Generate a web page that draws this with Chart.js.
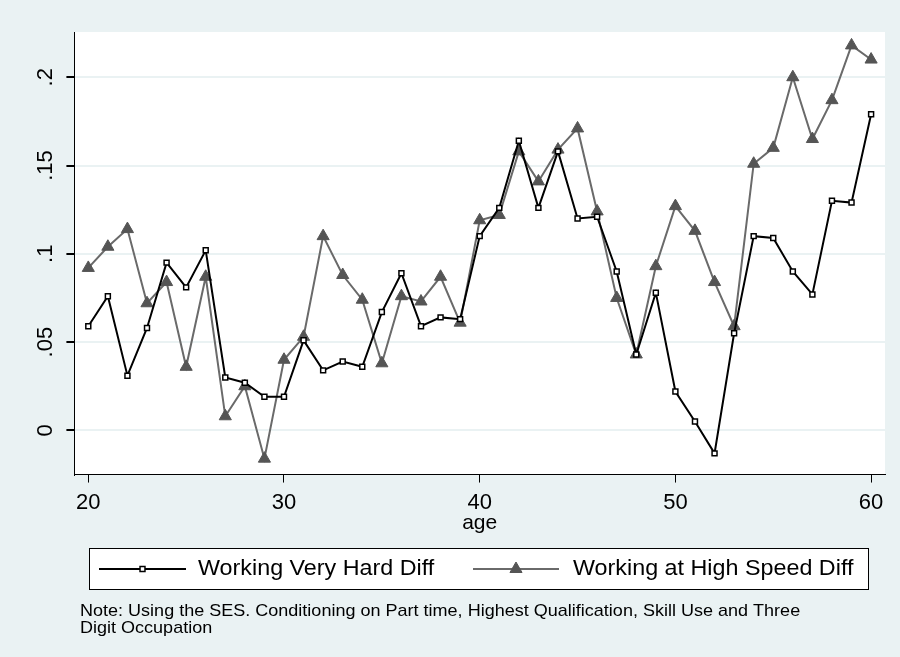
<!DOCTYPE html>
<html>
<head>
<meta charset="utf-8">
<script src="https://cdn.jsdelivr.net/npm/chart.js@4.4.1/dist/chart.umd.min.js"></script>
<style>
  html, body { margin: 0; padding: 0; background: #eaf2f3; }
  canvas { display: block; }
</style>
</head>
<body>
<canvas id="chart" width="900" height="657"></canvas>
<script>
// ages on the x axis
const ages = [20, 21, 22, 23, 24, 25, 26, 27, 28, 29, 30, 31, 32, 33, 34, 35, 36, 37, 38, 39, 40,
              41, 42, 43, 44, 45, 46, 47, 48, 49, 50, 51, 52, 53, 54, 55, 56, 57, 58, 59, 60];

// Working Very Hard Diff
const veryHard = [0.059, 0.076, 0.031, 0.058, 0.095, 0.081, 0.102, 0.030, 0.027, 0.019, 0.019,
                  0.051, 0.034, 0.039, 0.036, 0.067, 0.089, 0.059, 0.064, 0.063, 0.110,
                  0.126, 0.164, 0.126, 0.158, 0.120, 0.121, 0.090, 0.043, 0.078, 0.022,
                  0.005, -0.013, 0.055, 0.110, 0.109, 0.090, 0.077, 0.130, 0.129, 0.179];

// Working at High Speed Diff
const highSpeed = [0.092, 0.104, 0.114, 0.072, 0.084, 0.036, 0.087, 0.008, 0.025, -0.016, 0.040,
                   0.053, 0.110, 0.088, 0.074, 0.038, 0.076, 0.073, 0.087, 0.061, 0.119,
                   0.122, 0.158, 0.141, 0.159, 0.171, 0.124, 0.075, 0.043, 0.093, 0.127,
                   0.113, 0.084, 0.059, 0.151, 0.160, 0.200, 0.165, 0.187, 0.218, 0.210];

const xTicks = [20, 30, 40, 50, 60];
const yTicks = [0, 0.05, 0.1, 0.15, 0.2];
const yTickLabels = ['0', '.05', '.1', '.15', '.2'];

const noteLines = [
    'Note: Using the SES. Conditioning on Part time, Highest Qualification, Skill Use and Three',
    'Digit Occupation'
];

const FONT = '"Liberation Sans", Arial, sans-serif';
const BG = '#eaf2f3';

function toPoints(values) {
    return ages.map((a, i) => ({ x: a, y: values[i] }));
}

// text a bit wider than the font, like the original export
function wideText(ctx, text, x, y, sx) {
    ctx.save();
    ctx.translate(x, y);
    ctx.scale(sx, 1);
    ctx.fillText(text, 0, 0);
    ctx.restore();
}

// background + white plot region
const backgroundPlugin = {
    id: 'stataBackground',
    beforeDraw(chart) {
        const { ctx, chartArea } = chart;
        ctx.save();
        ctx.fillStyle = BG;
        ctx.fillRect(0, 0, chart.width, chart.height);
        ctx.fillStyle = '#ffffff';
        ctx.fillRect(chartArea.left, chartArea.top, chartArea.right - chartArea.left, chartArea.bottom - chartArea.top);
        ctx.restore();
    }
};

// boxed legend and note under the axis
const legendNotePlugin = {
    id: 'legendNote',
    afterDraw(chart) {
        const ctx = chart.ctx;
        const ds = chart.data.datasets;
        ctx.save();

        // box
        ctx.fillStyle = '#ffffff';
        ctx.fillRect(89, 548, 779, 41);
        ctx.strokeStyle = '#000000';
        ctx.lineWidth = 1;
        ctx.strokeRect(89.5, 548.5, 779, 41);

        const items = [
            { x0: 99, x1: 186, tx: 198 },
            { x0: 473, x1: 559, tx: 573 }
        ];
        const cy = 569;
        items.forEach((it, i) => {
            const d = ds[i];
            ctx.strokeStyle = d.borderColor;
            ctx.lineWidth = d.borderWidth;
            ctx.beginPath();
            ctx.moveTo(it.x0, cy);
            ctx.lineTo(it.x1, cy);
            ctx.stroke();
            ctx.fillStyle = d.pointBackgroundColor;
            ctx.strokeStyle = d.pointBorderColor;
            ctx.lineWidth = d.pointBorderWidth;
            Chart.helpers.drawPoint(ctx, {
                pointStyle: d.pointStyle,
                radius: d.pointRadius,
                rotation: 0,
                borderWidth: d.pointBorderWidth
            }, (it.x0 + it.x1) / 2, cy);
            ctx.fillStyle = '#000000';
            ctx.font = '22px ' + FONT;
            ctx.textBaseline = 'middle';
            ctx.textAlign = 'left';
            wideText(ctx, d.label, it.tx, cy, 1.06);
        });

        // note
        ctx.fillStyle = '#000000';
        ctx.font = '17px ' + FONT;
        ctx.textBaseline = 'middle';
        noteLines.forEach((line, i) => {
            wideText(ctx, line, 80, 611 + i * 17, 1.06);
        });
        ctx.restore();
    }
};

new Chart(document.getElementById('chart'), {
    type: 'line',
    data: {
        datasets: [
            {
                label: 'Working Very Hard Diff',
                data: toPoints(veryHard),
                borderColor: '#000000',
                borderWidth: 2,
                pointStyle: 'rect',
                pointRadius: 3.5,
                pointBackgroundColor: '#ffffff',
                pointBorderColor: '#000000',
                pointBorderWidth: 1.5,
                tension: 0
            },
            {
                label: 'Working at High Speed Diff',
                data: toPoints(highSpeed),
                borderColor: '#6a6a6a',
                borderWidth: 2,
                pointStyle: 'triangle',
                pointRadius: 7,
                pointBackgroundColor: '#555555',
                pointBorderColor: '#555555',
                pointBorderWidth: 1,
                tension: 0
            }
        ]
    },
    options: {
        responsive: false,
        animation: false,
        devicePixelRatio: 1,
        layout: { padding: { left: 30, right: 15, top: 32, bottom: 133 } },
        plugins: {
            legend: { display: false },
            tooltip: { enabled: false }
        },
        scales: {
            x: {
                type: 'linear',
                min: 19.29,
                max: 60.71,
                afterBuildTicks: axis => { axis.ticks = xTicks.map(v => ({ value: v })); },
                grid: { drawOnChartArea: false, drawTicks: true, tickLength: 8, tickColor: '#000000' },
                border: { display: true, color: '#000000', width: 1 },
                ticks: {
                    color: '#000000',
                    padding: 7,
                    maxRotation: 0,
                    font: { family: FONT, size: 22 }
                },
                title: {
                    display: true,
                    text: 'age',
                    color: '#000000',
                    padding: 0,
                    font: { family: FONT, size: 21, lineHeight: 0.05 }
                }
            },
            y: {
                type: 'linear',
                min: -0.025,
                max: 0.2256,
                afterBuildTicks: axis => { axis.ticks = yTicks.map(v => ({ value: v })); },
                grid: { color: BG, lineWidth: 2, drawTicks: true, tickLength: 8, tickColor: '#000000' },
                border: { display: true, color: '#000000', width: 1 },
                ticks: {
                    color: '#000000',
                    padding: 5,
                    minRotation: 90,
                    maxRotation: 90,
                    crossAlign: 'center',
                    font: { family: FONT, size: 22 },
                    callback: v => {
                        const i = yTicks.findIndex(t => Math.abs(t - v) < 1e-9);
                        return i >= 0 ? yTickLabels[i] : '';
                    }
                }
            }
        }
    },
    plugins: [backgroundPlugin, legendNotePlugin]
});
</script>
</body>
</html>
